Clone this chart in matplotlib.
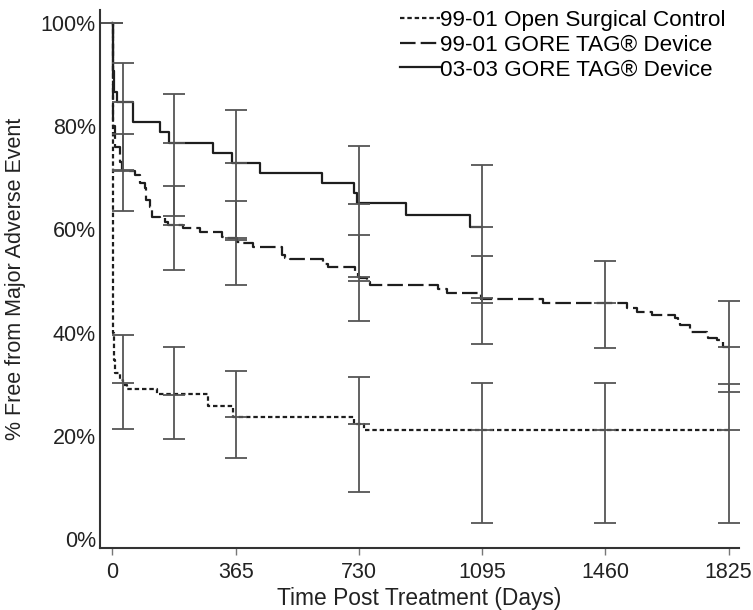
import numpy as np
import matplotlib
matplotlib.use("Agg")
import matplotlib.pyplot as plt

plt.rcParams['font.family'] = ['Liberation Sans', 'DejaVu Sans']

# Kaplan-Meier step curves (day, % free from MAE)
ctrl_days = [0, 1, 3, 8, 22, 32, 42, 131, 284, 358, 715, 745, 1825]
ctrl_pct = [100, 40.0, 34.7, 32.2, 30.8, 29.8, 29.1, 28.1, 25.9, 23.6, 22.4, 21.1, 21.1]

tag99_days = [0, 2, 8, 22, 27, 30, 67, 82, 97, 100, 111, 117, 141, 156, 165, 209, 259,
              324, 334, 368, 378, 416, 501, 511, 526, 624, 639, 664, 719, 728, 733,
              753, 763, 965, 990, 1093, 1276, 1523, 1553, 1597, 1666, 1675, 1681,
              1711, 1760, 1765, 1790, 1810, 1825]
tag99_pct = [100, 80.0, 76.0, 73.1, 71.8, 71.3, 70.5, 69.0, 68.0, 65.7, 64.4, 62.5, 62.2,
             61.4, 60.9, 60.3, 59.6, 58.6, 58.3, 57.6, 57.3, 56.6, 55.0, 54.4, 54.2,
             53.4, 52.8, 52.7, 51.8, 50.8, 50.5, 49.9, 49.2, 48.4, 47.6, 46.6, 45.7,
             44.7, 44.0, 43.4, 42.8, 42.1, 41.5, 40.2, 39.5, 38.9, 38.6, 37.3, 37.3]

tag03_days = [0, 1, 5, 14, 60, 141, 168, 298, 353, 437, 620, 716, 725, 869, 1059, 1095]
tag03_pct = [100, 90.6, 86.7, 84.7, 80.8, 78.9, 76.8, 74.9, 72.9, 70.9, 68.9, 67.0,
             65.1, 62.8, 60.5, 60.5]

# interval estimates at the follow-up visits
ctrl_t = [0, 30, 182, 365, 730, 1095, 1460, 1825]
ctrl_est = [100, 30.3, 28.0, 23.6, 22.4, 21.1, 21.1, 21.1]
ctrl_lo = [100, 21.3, 19.5, 15.8, 9.1, 3.1, 3.1, 3.1]
ctrl_hi = [100, 39.5, 37.3, 32.6, 31.4, 30.2, 30.2, 30.0]

tag99_t = [0, 30, 182, 365, 730, 1095, 1460, 1825]
tag99_est = [100, 71.5, 60.9, 57.9, 50.0, 46.7, 45.7, 37.3]
tag99_lo = [100, 63.6, 52.1, 49.2, 42.3, 37.9, 37.1, 28.5]
tag99_hi = [100, 78.4, 68.4, 65.6, 58.9, 54.8, 53.9, 46.1]

tag03_t = [0, 30, 182, 365, 730, 1095]
tag03_est = [100, 84.7, 76.8, 72.9, 64.9, 60.5]
tag03_lo = [100, 71.3, 62.7, 58.4, 50.8, 45.7]
tag03_hi = [100, 92.2, 86.2, 83.1, 76.2, 72.5]

fig = plt.figure(figsize=(7.53, 6.10), dpi=100)
ax = fig.add_axes([0.1328, 0.1016, 0.8486, 0.882])

line_col = '#1e1e1e'
bar_col = '#555555'

ax.step(ctrl_days, ctrl_pct, where='post', color=line_col, lw=1.6,
        linestyle=(0, (2.0, 1.3)), label='99-01 Open Surgical Control')
ax.step(tag99_days, tag99_pct, where='post', color=line_col, lw=1.6,
        linestyle=(0, (7.0, 2.3)), label='99-01 GORE TAG® Device')
ax.step(tag03_days, tag03_pct, where='post', color=line_col, lw=1.6,
        linestyle='-', label='03-03 GORE TAG® Device')

for t, est, lo, hi in [(ctrl_t, ctrl_est, ctrl_lo, ctrl_hi),
                       (tag99_t, tag99_est, tag99_lo, tag99_hi),
                       (tag03_t, tag03_est, tag03_lo, tag03_hi)]:
    est = np.array(est)
    yerr = [est - np.array(lo), np.array(hi) - est]
    ax.errorbar(t, est, yerr=yerr, fmt='_', color=bar_col, ecolor=bar_col,
                markersize=16, markeredgewidth=1.3, elinewidth=1.3,
                capsize=8, capthick=1.3)

ax.set_xlim(-37, 1856)
ax.set_ylim(-1.7, 102.5)
ax.set_xticks([0, 365, 730, 1095, 1460, 1825])
ax.set_yticks([0, 20, 40, 60, 80, 100])
ax.set_yticklabels(['0%', '20%', '40%', '60%', '80%', '100%'])

for s in ['top', 'right']:
    ax.spines[s].set_visible(False)
for s in ['left', 'bottom']:
    ax.spines[s].set_color('#333333')
    ax.spines[s].set_linewidth(1.5)

ax.tick_params(axis='x', direction='out', length=5, width=1, color='#777777',
               labelsize=15.5, pad=5, labelcolor='#222222')
ax.tick_params(axis='y', length=0, labelsize=15.5, pad=3, labelcolor='#222222')

ax.set_xlabel('Time Post Treatment (Days)', fontsize=16.4, color='#222222')
ax.xaxis.set_label_coords(0.5, -0.073)
ax.set_ylabel('% Free from Major Adverse Event', fontsize=15.5, color='#222222')
ax.yaxis.set_label_coords(-0.132, 0.5)
ax.yaxis.label.set_verticalalignment('center')

ax.legend(loc='upper right', bbox_to_anchor=(1.0, 1.025), frameon=False, fontsize=16.2,
          handlelength=1.78, handletextpad=0.0, labelspacing=0.16, borderaxespad=0.2)

fig.savefig('out.png', dpi=100)
